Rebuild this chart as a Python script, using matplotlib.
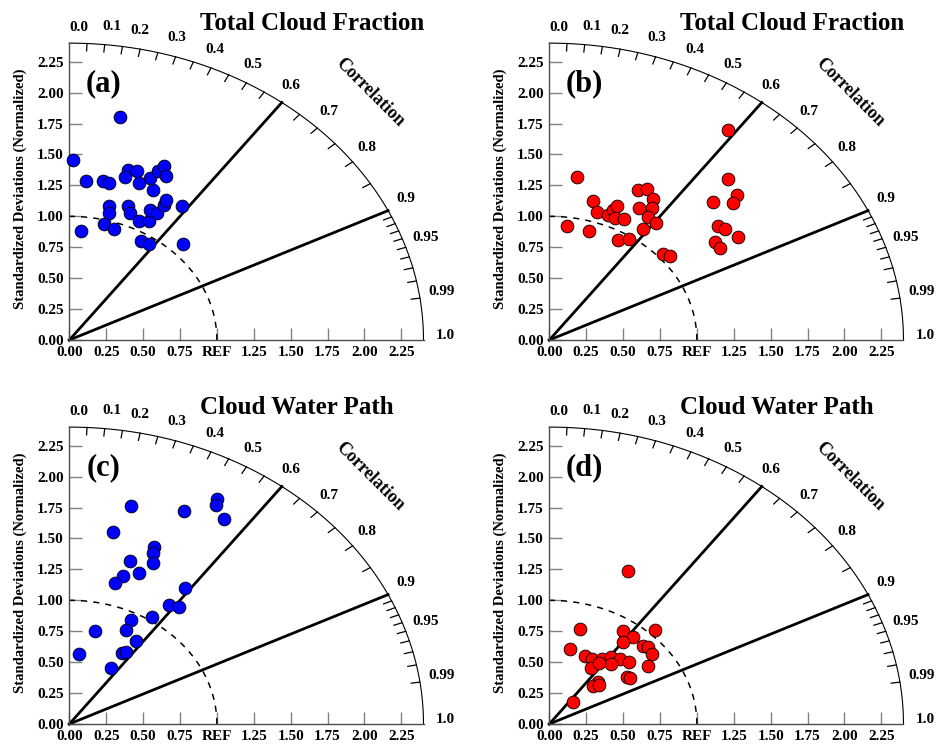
import numpy as np
import matplotlib.pyplot as plt

plt.rcParams['font.family'] = ['Liberation Serif', 'DejaVu Serif']
plt.rcParams['font.weight'] = 'bold'

# radius of the outer arc (normalized std dev)
R = 2.4

std_ticks = [0.0, 0.25, 0.5, 0.75, 1.0, 1.25, 1.5, 1.75, 2.0, 2.25]
x_labels = ['0.00', '0.25', '0.50', '0.75', 'REF', '1.25', '1.50', '1.75', '2.00', '2.25']
y_labels = ['0.00', '0.25', '0.50', '0.75', '1.00', '1.25', '1.50', '1.75', '2.00', '2.25']

corr_labels = [0.0, 0.1, 0.2, 0.3, 0.4, 0.5, 0.6, 0.7, 0.8, 0.9, 0.95, 0.99, 1.0]
corr_label_txt = ['0.0', '0.1', '0.2', '0.3', '0.4', '0.5', '0.6', '0.7', '0.8', '0.9', '0.95', '0.99', '1.0']
corr_minor = [0.05, 0.1, 0.15, 0.2, 0.25, 0.3, 0.35, 0.4, 0.45, 0.5, 0.55, 0.65,
              0.7, 0.75, 0.8, 0.85, 0.91, 0.92, 0.93, 0.94, 0.95, 0.96, 0.97, 0.98, 0.99]
corr_lines = [0.6, 0.9]

# (a) total cloud fraction, blue set
a_x = [0.343, 0.023, 0.113, 0.226, 0.267, 0.400, 0.377, 0.461, 0.470, 0.547, 0.599,
       0.642, 0.653, 0.567, 0.270, 0.270, 0.400, 0.411, 0.474, 0.542, 0.547, 0.592,
       0.642, 0.653, 0.761, 0.237, 0.303, 0.079, 0.488, 0.538, 0.772]
a_y = [1.805, 1.455, 1.283, 1.283, 1.272, 1.374, 1.320, 1.369, 1.272, 1.307, 1.369,
       1.407, 1.326, 1.213, 1.083, 1.024, 1.083, 1.024, 0.965, 0.965, 1.051, 1.030,
       1.091, 1.132, 1.083, 0.935, 0.895, 0.881, 0.798, 0.773, 0.773]

# (b) total cloud fraction, red set
b_x = [1.213, 0.190, 1.210, 0.298, 0.321, 0.122, 0.271, 0.400, 0.434, 0.457, 0.445,
       0.506, 0.468, 0.540, 0.603, 0.660, 0.700, 0.605, 0.698, 0.667, 0.721, 0.635,
       0.772, 0.818, 1.111, 1.274, 1.247, 1.141, 1.188, 1.280, 1.120, 1.159]
b_y = [1.698, 1.315, 1.302, 1.124, 1.032, 0.924, 0.881, 1.010, 1.051, 1.086, 0.984,
       0.978, 0.808, 0.816, 1.213, 1.218, 1.140, 1.065, 1.070, 0.992, 0.943, 0.895,
       0.693, 0.682, 1.113, 1.172, 1.108, 0.922, 0.895, 0.835, 0.790, 0.741]

# (c) cloud water path, blue set
c_x = [0.999, 0.995, 1.050, 0.418, 0.775, 0.298, 0.574, 0.569, 0.569, 0.411, 0.472,
       0.362, 0.307, 0.786, 0.675, 0.741, 0.558, 0.418, 0.382, 0.176, 0.450, 0.359,
       0.386, 0.068, 0.283]
c_y = [1.816, 1.770, 1.655, 1.765, 1.720, 1.555, 1.428, 1.380, 1.304, 1.318, 1.221,
       1.196, 1.137, 1.097, 0.962, 0.949, 0.862, 0.841, 0.760, 0.754, 0.673, 0.577,
       0.585, 0.563, 0.450]

# (d) cloud water path, red set
d_x = [0.531, 0.208, 0.497, 0.714, 0.569, 0.501, 0.142, 0.637, 0.671, 0.694, 0.666,
       0.242, 0.287, 0.355, 0.416, 0.479, 0.538, 0.416, 0.280, 0.339, 0.529, 0.547,
       0.328, 0.298, 0.339, 0.163]
d_y = [1.235, 0.768, 0.752, 0.760, 0.701, 0.660, 0.606, 0.631, 0.620, 0.566, 0.469,
       0.550, 0.528, 0.528, 0.539, 0.523, 0.504, 0.482, 0.450, 0.490, 0.377, 0.370,
       0.342, 0.310, 0.315, 0.175]


def taylor(ax, xs, ys, color, title, tag):
    ax.set_xlim(0, R)
    ax.set_ylim(0, R)
    for s in ['top', 'right']:
        ax.spines[s].set_visible(False)
    for s in ['left', 'bottom']:
        ax.spines[s].set_color('0.3')
        ax.spines[s].set_linewidth(1.0)

    ax.set_xticks(std_ticks)
    ax.set_xticklabels(x_labels)
    ax.set_yticks(std_ticks)
    ax.set_yticklabels(y_labels)
    ax.tick_params(direction='in', length=9, width=1, color='0.5',
                   labelsize=11, pad=4)

    # outer arc and reference circle
    t = np.linspace(0, np.pi / 2, 300)
    ax.plot(R * np.cos(t), R * np.sin(t), color='k', lw=0.8, clip_on=False)
    ax.plot(np.cos(t), np.sin(t), color='k', lw=1.1, ls=(0, (4, 4)))

    # correlation lines
    for c in corr_lines:
        th = np.arccos(c)
        ax.plot([0, R * np.cos(th)], [0, R * np.sin(th)], color='k', lw=2,
                clip_on=False)

    # ticks on the arc
    for c in corr_minor:
        th = np.arccos(c)
        ax.plot([R * np.cos(th), (R - 0.06) * np.cos(th)],
                [R * np.sin(th), (R - 0.06) * np.sin(th)],
                color='k', lw=0.9, clip_on=False)

    # correlation labels
    for c, txt in zip(corr_labels, corr_label_txt):
        shift = -0.8 if c == 0.1 else 0.8
        th = np.arccos(c) + np.radians(shift)
        rr = 2.55
        if c == 0.0:
            ax.text(0.0, 2.53, txt, fontsize=11, ha='left', va='center')
        else:
            ax.text(rr * np.cos(th), rr * np.sin(th), txt, fontsize=11,
                    ha='center', va='center')

    ax.text(2.04, 2.0, 'Correlation', rotation=-45, fontsize=13,
            ha='center', va='center')
    ax.text(-0.334, 1.22, 'Standardized Deviations (Normalized)', rotation=90,
            fontsize=10.5, ha='center', va='center')
    ax.text(0.886, 2.56, title, fontsize=18, ha='left', va='center')
    ax.text(0.235, 2.07, tag, fontsize=22, ha='center', va='center')

    ax.scatter(xs, ys, s=85, c=color, edgecolors='k', linewidths=0.6,
               zorder=5, clip_on=False)


fig = plt.figure(figsize=(9.38, 7.45), dpi=100)
w = 0.3776
h = 0.3985
ax_a = fig.add_axes([0.0739, 0.5436, w, h])
ax_b = fig.add_axes([0.5856, 0.5436, w, h])
ax_c = fig.add_axes([0.0739, 0.0282, w, h])
ax_d = fig.add_axes([0.5856, 0.0282, w, h])

taylor(ax_a, a_x, a_y, '#0000ff', 'Total Cloud Fraction', '(a)')
taylor(ax_b, b_x, b_y, '#ff0000', 'Total Cloud Fraction', '(b)')
taylor(ax_c, c_x, c_y, '#0000ff', 'Cloud Water Path', '(c)')
taylor(ax_d, d_x, d_y, '#ff0000', 'Cloud Water Path', '(d)')

fig.savefig('out.png', dpi=100)
